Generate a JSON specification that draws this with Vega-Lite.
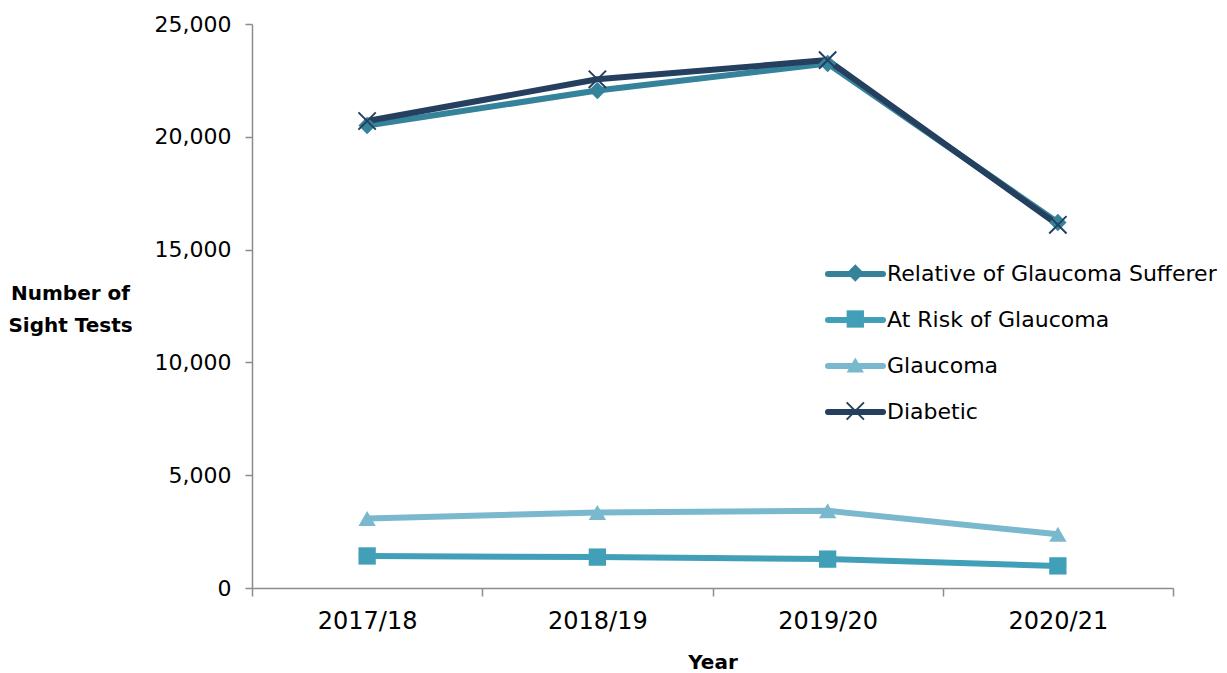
{
  "$schema": "https://vega.github.io/schema/vega-lite/v6.json",
  "width": 921,
  "height": 564,
  "autosize": {"type": "none"},
  "padding": {"left": 252, "top": 24, "right": 54, "bottom": 85},
  "background": "white",
  "config": {
    "view": {"stroke": null},
    "font": "DejaVu Sans",
    "axis": {
      "grid": false,
      "domainColor": "#8c8c8c",
      "domainWidth": 1.5,
      "tickColor": "#8c8c8c",
      "tickWidth": 1.5,
      "labelFont": "DejaVu Sans",
      "labelFontSize": 22,
      "labelColor": "#000000",
      "titleFont": "DejaVu Sans",
      "titleFontSize": 20,
      "titleFontWeight": "bold",
      "titleColor": "#000000"
    },
    "legend": {
      "labelFont": "DejaVu Sans",
      "labelFontSize": 22,
      "labelColor": "#000000",
      "labelLimit": 500
    }
  },
  "data": {
    "values": [
      {"year": "2017/18", "series": "Relative of Glaucoma Sufferer", "value": 20500},
      {"year": "2018/19", "series": "Relative of Glaucoma Sufferer", "value": 22050},
      {"year": "2019/20", "series": "Relative of Glaucoma Sufferer", "value": 23250},
      {"year": "2020/21", "series": "Relative of Glaucoma Sufferer", "value": 16200},
      {"year": "2017/18", "series": "At Risk of Glaucoma", "value": 1420},
      {"year": "2018/19", "series": "At Risk of Glaucoma", "value": 1370},
      {"year": "2019/20", "series": "At Risk of Glaucoma", "value": 1280},
      {"year": "2020/21", "series": "At Risk of Glaucoma", "value": 980},
      {"year": "2017/18", "series": "Glaucoma", "value": 3080},
      {"year": "2018/19", "series": "Glaucoma", "value": 3350},
      {"year": "2019/20", "series": "Glaucoma", "value": 3420},
      {"year": "2020/21", "series": "Glaucoma", "value": 2380},
      {"year": "2017/18", "series": "Diabetic", "value": 20700},
      {"year": "2018/19", "series": "Diabetic", "value": 22550},
      {"year": "2019/20", "series": "Diabetic", "value": 23400},
      {"year": "2020/21", "series": "Diabetic", "value": 16100}
    ]
  },
  "encoding": {
    "x": {
      "field": "year",
      "type": "ordinal",
      "scale": {"paddingInner": 0, "paddingOuter": 0},
      "axis": {
        "title": "Year",
        "labelAngle": 0,
        "labelFontSize": 24,
        "tickBand": "extent",
        "tickSize": 8,
        "labelPadding": 13,
        "titlePadding": 19
      }
    },
    "y": {
      "field": "value",
      "type": "quantitative",
      "scale": {"domain": [0, 25000], "nice": false},
      "axis": {
        "values": [0, 5000, 10000, 15000, 20000, 25000],
        "format": ",.0f",
        "tickSize": 7,
        "labelPadding": 14,
        "title": ["Number of", "Sight Tests"],
        "titleAngle": 0,
        "titleAlign": "center",
        "titleBaseline": "middle",
        "titleX": -182,
        "titleY": 269,
        "titleLineHeight": 32
      }
    }
  },
  "layer": [
    {
      "mark": {"type": "line", "strokeWidth": 6, "strokeCap": "round", "strokeJoin": "round"},
      "encoding": {
        "stroke": {
          "field": "series",
          "type": "nominal",
          "sort": ["Relative of Glaucoma Sufferer", "At Risk of Glaucoma", "Glaucoma", "Diabetic"],
          "scale": {"range": ["#35839A", "#41A0B8", "#7AB8CD", "#253F5F"]},
          "legend": {
            "title": null,
            "orient": "none",
            "legendX": 589.5,
            "legendY": 236,
            "padding": 0,
            "zindex": 0,
            "symbolType": "M-2.5,0L2.5,0",
            "symbolSize": 484,
            "symbolStrokeWidth": 6,
            "labelOffset": 17.5,
            "rowPadding": 20,
            "encode": {
              "symbols": {
                "update": {
                  "stroke": {"scale": "stroke", "field": "value"},
                  "strokeWidth": {"value": 6},
                  "strokeCap": {"value": "round"},
                  "fill": {"value": "transparent"}
                }
              }
            }
          }
        }
      }
    },
    {
      "mark": {"type": "point", "filled": true, "size": 300, "opacity": 1},
      "encoding": {
        "color": {
          "field": "series",
          "type": "nominal",
          "scale": {
            "domain": ["Relative of Glaucoma Sufferer", "At Risk of Glaucoma", "Glaucoma", "Diabetic"],
            "range": ["#35839A", "#41A0B8", "#7AB8CD", "#253F5F"]
          },
          "legend": {
            "title": null,
            "orient": "none",
            "legendX": 592.3,
            "legendY": 238,
            "padding": 0,
            "zindex": 1,
            "symbolSize": 300,
            "symbolStrokeWidth": 0,
            "symbolOpacity": 1,
            "labelExpr": "' '",
            "rowPadding": 24
          }
        },
        "shape": {
          "field": "series",
          "type": "nominal",
          "scale": {
            "domain": ["Relative of Glaucoma Sufferer", "At Risk of Glaucoma", "Glaucoma", "Diabetic"],
            "range": ["diamond", "square", "triangle-up", "M-0.92,-1.08L1.08,0.92L0.92,1.08L-1.08,-0.92Z M0.92,-1.08L1.08,-0.92L-0.92,1.08L-1.08,0.92Z"]
          },
          "legend": {
            "title": null,
            "orient": "none",
            "legendX": 592.3,
            "legendY": 238,
            "padding": 0,
            "zindex": 1,
            "symbolSize": 300,
            "symbolStrokeWidth": 0,
            "symbolOpacity": 1,
            "labelExpr": "' '",
            "rowPadding": 24
          }
        }
      }
    }
  ]
}
